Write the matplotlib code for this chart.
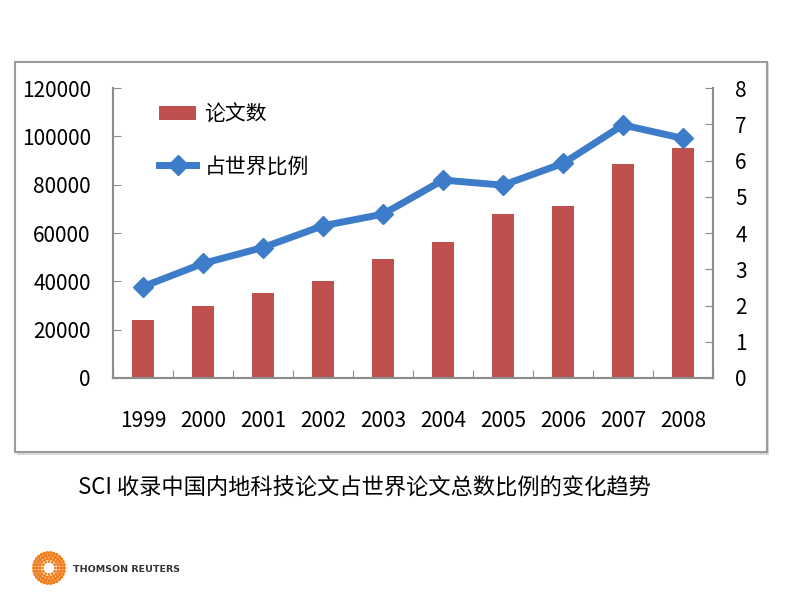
import numpy as np
import matplotlib.pyplot as plt
from matplotlib.patches import Rectangle

plt.rcParams['font.family'] = ['Liberation Sans Narrow', 'Noto Sans CJK SC', 'DejaVu Sans']

# data
years = ['1999', '2000', '2001', '2002', '2003', '2004', '2005', '2006', '2007', '2008']
papers = [24000, 29800, 35200, 40100, 49200, 56400, 67700, 71200, 88400, 95300]
share = [2.52, 3.16, 3.60, 4.20, 4.52, 5.46, 5.32, 5.92, 6.98, 6.61]

red = '#c0504d'
blue = '#3d7cc9'
grey = '#8c8c8c'

fig = plt.figure(figsize=(8, 6), dpi=100)

# frame around the chart (with a little shadow)
fig.patches.append(Rectangle((17/800, 1-455/600), 752/800, 392/600, transform=fig.transFigure,
                             facecolor='#d9d9d9', edgecolor='none', zorder=0))
fig.patches.append(Rectangle((15/800, 1-452/600), 752/800, 390/600, transform=fig.transFigure,
                             facecolor='white', edgecolor='#9a9a9a', linewidth=1.5, zorder=0))

ax = fig.add_axes([113/800, 1-378/600, 600/800, 290/600])
ax.set_zorder(1)
x = np.arange(len(years))
ax.bar(x, papers, width=0.36, color=red, label='论文数', zorder=2)
ax.set_xlim(-0.5, 9.5)
ax.set_ylim(0, 120000)
ax.set_yticks(np.arange(0, 120001, 20000))

ax2 = ax.twinx()
ax2.plot(x, share, color=blue, linewidth=5, marker='D', markersize=10.5,
         label='占世界比例', zorder=3)
ax2.set_ylim(0, 8)
ax2.set_yticks(range(0, 9))

# ticks at the category boundaries, labels at the centres
ax.set_xticks(np.arange(-0.5, 10, 1))
ax.set_xticklabels([])
ax.set_xticks(x, minor=True)
ax.set_xticklabels(years, minor=True)
ax.tick_params(axis='x', which='minor', length=0, pad=23, labelsize=15)
ax.tick_params(axis='x', which='major', direction='in', length=6, color=grey)
ax.tick_params(axis='y', direction='in', length=6, color=grey, pad=16, labelsize=15)
ax2.tick_params(axis='y', direction='in', length=6, color=grey, pad=16, labelsize=15)

for a in (ax, ax2):
    a.patch.set_visible(False)
    a.spines['top'].set_visible(False)
    for s in ('left', 'right', 'bottom'):
        a.spines[s].set_color(grey)
        a.spines[s].set_linewidth(1.5)

h1, l1 = ax.get_legend_handles_labels()
h2, l2 = ax2.get_legend_handles_labels()
ax2.legend(h1 + h2, l1 + l2, loc='upper left', bbox_to_anchor=(0.045, 1.012),
           frameon=False, prop={'family': ['Noto Sans CJK SC'], 'size': 15},
           handlelength=1.8, labelspacing=1.45, handletextpad=0.4)

# caption
fig.text(78/800, 1-488/600, 'SCI 收录中国内地科技论文占世界论文总数比例的变化趋势',
         fontsize=16, family=['Noto Sans CJK SC'], va='center', ha='left')

# logo
lax = fig.add_axes([32/800, 1-585/600, 34/800, 34/600])
lax.set_aspect('equal')
lax.axis('off')
for r, n, s in [(0.4, 12, 4), (0.58, 18, 6), (0.77, 24, 7), (0.95, 30, 6)]:
    t = np.linspace(0, 2*np.pi, n, endpoint=False)
    lax.scatter(r*np.cos(t), r*np.sin(t), s=s, color='#f07d1a', edgecolors='none')
lax.set_xlim(-1.05, 1.05)
lax.set_ylim(-1.05, 1.05)
fig.text(73/800, 1-569/600, 'THOMSON REUTERS', fontsize=6.8, va='center', ha='left',
         weight='bold', family=['Liberation Sans Narrow', 'DejaVu Sans'], color='#333333')

fig.savefig('out.png', dpi=100)
